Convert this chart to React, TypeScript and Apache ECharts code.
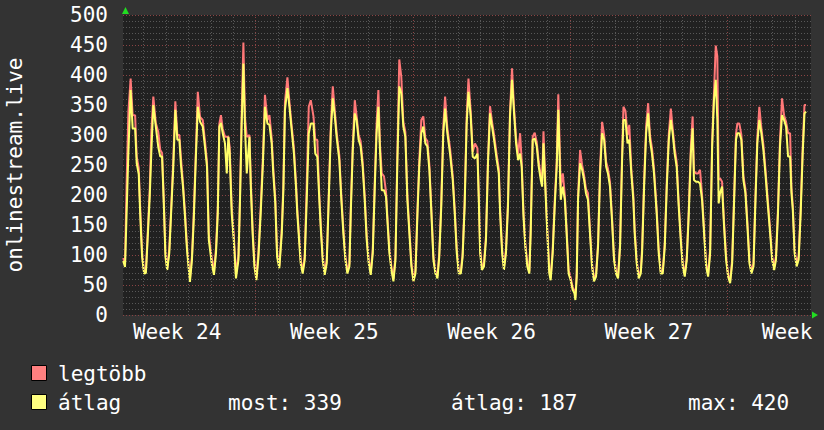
import React, { useEffect, useRef } from "react";
import * as echarts from "echarts";

// time in days (day 0 = Monday of week 24)
const dayPoints = [
  1.10, 1.18, 1.25, 1.33, 1.43, 1.52, 1.63, 1.70, 1.79, 1.86, 1.94,
  2.03, 2.11, 2.20, 2.28, 2.35, 2.44, 2.55, 2.66, 2.75, 2.83, 2.90, 2.98,
  3.06, 3.15, 3.26, 3.33, 3.42, 3.51, 3.60, 3.67, 3.76, 3.85, 3.94,
  4.07, 4.16, 4.24, 4.34, 4.42, 4.52, 4.64, 4.74, 4.83, 4.91,
  5.04, 5.14, 5.23, 5.31, 5.38, 5.45, 5.53, 5.63, 5.71, 5.78, 5.84, 5.93,
  6.02, 6.12, 6.23, 6.30, 6.37, 6.45, 6.52, 6.60, 6.72, 6.78, 6.86, 6.94,
  7.03, 7.12, 7.22, 7.32, 7.41, 7.52, 7.61, 7.71, 7.78, 7.87, 7.95,
  8.05, 8.16, 8.23, 8.30, 8.41, 8.50, 8.60, 8.70, 8.79, 8.85, 8.94,
  9.00, 9.09, 9.18, 9.27, 9.36, 9.45, 9.57, 9.65, 9.74, 9.83, 9.89, 9.98,
  10.07, 10.16, 10.25, 10.34, 10.43, 10.52, 10.60, 10.72, 10.81, 10.90, 10.99,
  11.08, 11.17, 11.23, 11.32, 11.41, 11.49, 11.58, 11.67, 11.76, 11.85, 11.94,
  12.03, 12.12, 12.21, 12.30, 12.38, 12.46, 12.53, 12.61, 12.71, 12.80, 12.86, 12.95,
  13.04, 13.13, 13.22, 13.30, 13.39, 13.48, 13.57, 13.66, 13.75, 13.84, 13.93,
  14.02, 14.11, 14.20, 14.28, 14.37, 14.46, 14.55, 14.64, 14.73, 14.82, 14.91,
  15.00, 15.09, 15.17, 15.26, 15.35, 15.43, 15.53, 15.65, 15.77, 15.86, 15.95,
  16.04, 16.13, 16.21, 16.30, 16.39, 16.47, 16.57, 16.66, 16.76, 16.87, 16.93, 16.99,
  17.07, 17.16, 17.25, 17.34, 17.43, 17.52, 17.61, 17.73, 17.82, 17.88, 17.97,
  18.05, 18.14, 18.23, 18.32, 18.41, 18.50, 18.59, 18.68, 18.77, 18.84, 18.92,
  19.00, 19.09, 19.18, 19.24, 19.33, 19.42, 19.51, 19.60, 19.69, 19.75, 19.81, 19.89, 19.98,
  20.07, 20.13, 20.22, 20.31, 20.40, 20.47, 20.58, 20.67, 20.76, 20.84, 20.93,
  21.02, 21.11, 21.19, 21.23, 21.29, 21.35, 21.44, 21.53, 21.62, 21.70, 21.79, 21.88, 21.97,
  22.06, 22.15, 22.24, 22.33, 22.42, 22.51, 22.60, 22.68, 22.77, 22.86, 22.95,
  23.04, 23.13, 23.22, 23.31, 23.37, 23.46, 23.55, 23.63, 23.72, 23.81, 23.87, 23.96,
  24.05, 24.14, 24.20, 24.29, 24.38, 24.47, 24.55, 24.64, 24.73, 24.79, 24.85, 24.94,
  25.03, 25.12, 25.21, 25.30, 25.39, 25.48, 25.56, 25.65, 25.74, 25.83, 25.92,
  26.01, 26.10, 26.19, 26.28, 26.37, 26.45, 26.51, 26.60, 26.69, 26.78, 26.87, 26.96,
  27.05, 27.14, 27.23, 27.32, 27.40, 27.48, 27.55, 27.61, 27.67, 27.76, 27.85, 27.94,
  28.03, 28.12, 28.21, 28.29, 28.38, 28.44, 28.53, 28.62, 28.71, 28.80, 28.89, 28.98,
  29.07, 29.16, 29.24, 29.33, 29.42, 29.51, 29.60, 29.69, 29.78, 29.90, 29.99,
  30.08, 30.16, 30.25, 30.34, 30.43, 30.52, 30.61, 30.70, 30.79, 30.85, 30.91, 30.99,
  31.08, 31.17, 31.26, 31.35, 31.43, 31.50,
];

// "átlag" (average)
const atlagValues = [
  90, 80, 169, 270, 375, 311, 311, 253, 235, 164, 97,
  69, 70, 136, 197, 270, 350, 314, 280, 264, 264, 192, 97,
  75, 103, 192, 247, 342, 292, 292, 250, 214, 164, 108,
  55, 92, 158, 269, 347, 322, 314, 280, 247, 125,
  86, 67, 103, 169, 314, 320, 303, 286, 236, 297, 269, 169,
  125, 61, 92, 192, 314, 419, 314, 236, 297, 214, 136, 81,
  58, 97, 169, 253, 347, 319, 317, 286, 236, 186, 97,
  78, 136, 208, 342, 378, 347, 308, 269, 214, 169, 119,
  86, 69, 92, 192, 303, 319, 319, 269, 264, 192, 147, 92,
  67, 86, 192, 303, 361, 331, 297, 258, 192, 136, 92,
  69, 81, 169, 275, 336, 325, 292, 281, 247, 192, 125,
  86, 67, 103, 214, 303, 347, 275, 208, 208, 197, 158, 103,
  75, 56, 92, 247, 381, 369, 314, 297, 192, 136, 81,
  56, 69, 169, 247, 303, 314, 286, 281, 242, 169, 92,
  69, 61, 97, 181, 303, 344, 303, 269, 225, 169, 103,
  69, 69, 97, 181, 319, 372, 331, 264, 261, 269, 192, 103,
  75, 81, 125, 253, 336, 314, 292, 258, 236, 169, 103,
  75, 103, 181, 331, 392, 336, 286, 258, 269, 247, 164,
  114, 81, 69, 136, 292, 294, 281, 247, 225, 214, 286, 214, 136,
  69, 58, 103, 181, 247, 342, 192, 214, 192, 136, 69,
  58, 42, 36, 25, 64, 192, 253, 242, 225, 203, 192, 136, 81,
  56, 64, 114, 236, 303, 292, 247, 236, 214, 158, 92,
  69, 61, 114, 258, 325, 325, 286, 292, 236, 192, 136, 86,
  61, 69, 103, 214, 303, 336, 292, 269, 236, 203, 169, 103,
  69, 69, 114, 214, 292, 325, 303, 269, 247, 181, 125,
  81, 64, 92, 169, 269, 311, 225, 222, 222, 219, 192, 136,
  81, 64, 103, 281, 358, 392, 325, 186, 203, 214, 147, 92,
  64, 53, 86, 181, 292, 303, 303, 292, 225, 203, 147, 86,
  69, 81, 181, 286, 325, 303, 275, 236, 192, 136, 92,
  75, 92, 169, 281, 333, 325, 314, 264, 264, 203, 175, 103,
  81, 92, 169, 269, 336, 339,
];

// "legtöbb" (maximum)
const legtobbValues = [
  95, 86, 219, 339, 394, 333, 333, 264, 245, 175, 105,
  72, 74, 145, 210, 305, 364, 320, 305, 275, 270, 200, 105,
  78, 110, 200, 260, 356, 300, 300, 262, 220, 172, 115,
  60, 98, 170, 280, 372, 330, 325, 290, 255, 135,
  95, 72, 112, 180, 319, 333, 310, 297, 297, 297, 280, 180,
  135, 68, 100, 200, 330, 454, 330, 297, 300, 225, 145, 90,
  63, 105, 180, 265, 367, 325, 333, 295, 245, 195, 105,
  82, 145, 218, 355, 396, 355, 315, 278, 222, 176, 126,
  92, 73, 98, 219, 347, 358, 331, 292, 292, 200, 155, 98,
  71, 92, 200, 315, 381, 340, 305, 266, 200, 144, 98,
  73, 86, 178, 285, 358, 332, 300, 290, 255, 200, 132,
  92, 71, 110, 225, 319, 375, 285, 236, 231, 205, 165, 110,
  80, 60, 98, 260, 426, 397, 322, 305, 200, 143, 86,
  60, 74, 178, 258, 325, 331, 295, 290, 250, 176, 98,
  73, 65, 103, 190, 315, 364, 312, 278, 232, 176, 110,
  74, 72, 103, 190, 330, 394, 340, 272, 286, 278, 200, 110,
  80, 86, 132, 262, 348, 322, 300, 266, 244, 176, 110,
  80, 110, 190, 340, 411, 345, 295, 266, 303, 256, 172,
  120, 86, 73, 145, 297, 304, 288, 255, 232, 222, 306, 222, 143,
  74, 62, 110, 190, 258, 368, 214, 236, 200, 143, 74,
  62, 46, 40, 29, 70, 200, 275, 250, 232, 210, 203, 143, 86,
  60, 68, 120, 246, 322, 300, 255, 244, 222, 165, 98,
  73, 65, 120, 268, 347, 340, 300, 317, 244, 200, 143, 92,
  65, 73, 110, 224, 315, 353, 300, 278, 244, 210, 176, 110,
  73, 73, 120, 224, 302, 344, 312, 278, 255, 188, 132,
  86, 68, 98, 178, 280, 331, 240, 236, 236, 242, 200, 143,
  86, 68, 110, 292, 370, 449, 431, 225, 228, 222, 154, 98,
  68, 57, 92, 190, 302, 319, 319, 300, 232, 210, 154, 92,
  73, 86, 190, 296, 347, 312, 284, 244, 200, 143, 98,
  80, 98, 178, 292, 361, 333, 322, 303, 303, 212, 182, 110,
  86, 98, 178, 280, 350, 350,
];

const yTickValues = [0, 50, 100, 150, 200, 250, 300, 350, 400, 450, 500];
const weekLabelDays = [3.5, 10.5, 17.5, 24.5, 31.5];
const weekLabels = ["Week 24", "Week 25", "Week 26", "Week 27", "Week 28"];
const viewStartDay = 1.09;
const viewEndDay = 31.72;
const yAxisTitle = "onlinestream.live";
const legendNames = ["legtöbb", "átlag"];
const statMost = 339;
const statAtlag = 187;
const statMax = 420;

const FONT = "'DejaVu Sans Mono', monospace";
const RED = "#ff7878";
const YELLOW = "#ffff6a";
const MINOR_GRID = "#585858";
const MAJOR_GRID = "#8a4444";

export default function App() {
  const ref = useRef<HTMLDivElement>(null);

  useEffect(() => {
    if (!ref.current) return;
    const chart = echarts.init(ref.current, undefined, { renderer: "svg" });

    const gridDays: number[] = [];
    for (let d = Math.ceil(viewStartDay); d <= Math.floor(viewEndDay); d++) gridDays.push(d);

    const markData = gridDays.map((d) => ({
      xAxis: d,
      lineStyle: {
        color: d % 7 === 0 ? MAJOR_GRID : MINOR_GRID,
        type: [1, 2] as any,
        width: 1,
      },
    }));

    const maxData = dayPoints.map((d, i) => [d, legtobbValues[i]]);
    const avgData = dayPoints.map((d, i) => [d, atlagValues[i]]);

    chart.setOption({
      animation: false,
      backgroundColor: "#333333",
      textStyle: { fontFamily: FONT },
      grid: {
        left: 123,
        top: 15,
        width: 688,
        height: 300,
        show: true,
        backgroundColor: "#212121",
        borderWidth: 0,
        containLabel: false,
        outerBoundsMode: "none",
      },
      xAxis: {
        type: "value",
        min: viewStartDay,
        max: viewEndDay,
        axisLine: { show: false },
        axisTick: { show: false },
        splitLine: { show: false },
        axisLabel: {
          customValues: weekLabelDays,
          formatter: (v: number) => {
            const idx = weekLabelDays.findIndex((w) => Math.abs(w - v) < 0.01);
            return idx >= 0 ? weekLabels[idx] : "";
          },
          color: "#ffffff",
          fontFamily: FONT,
          fontSize: 21,
          margin: 6,
          showMinLabel: true,
          showMaxLabel: true,
          hideOverlap: false,
        },
      },
      yAxis: {
        type: "value",
        min: yTickValues[0],
        max: yTickValues[yTickValues.length - 1],
        interval: yTickValues[1] - yTickValues[0],
        axisLine: { show: false },
        axisTick: { show: false },
        axisLabel: {
          color: "#ffffff",
          fontFamily: FONT,
          fontSize: 21,
          margin: 15,
        },
        splitLine: {
          show: true,
          lineStyle: { color: MAJOR_GRID, type: [1, 2], width: 1 },
        },
        minorTick: { show: false, splitNumber: 5 },
        minorSplitLine: {
          show: true,
          lineStyle: { color: MINOR_GRID, type: [1, 2], width: 1 },
        },
      },
      series: [
        {
          type: "line",
          name: "grid",
          data: [],
          z: 1,
          silent: true,
          markLine: {
            silent: true,
            symbol: ["none", "none"],
            label: { show: false },
            animation: false,
            data: markData,
          },
        },
        {
          type: "line",
          name: legendNames[0],
          data: maxData,
          showSymbol: false,
          symbol: "none",
          z: 3,
          lineStyle: { color: RED, width: 2 },
          itemStyle: { color: RED },
        },
        {
          type: "line",
          name: legendNames[1],
          data: avgData,
          showSymbol: false,
          symbol: "none",
          z: 4,
          lineStyle: { color: YELLOW, width: 2 },
          itemStyle: { color: YELLOW },
        },
      ],
    });

    const tl = chart.convertToPixel({ gridIndex: 0 }, [viewStartDay, yTickValues[yTickValues.length - 1]]) as number[];
    const br = chart.convertToPixel({ gridIndex: 0 }, [viewEndDay, yTickValues[0]]) as number[];
    const midY = (tl[1] + br[1]) / 2;

    const textStyle = (x: number, y: number, text: string) => ({
      type: "text",
      x,
      y,
      style: {
        text,
        fill: "#ffffff",
        font: `21px ${FONT}`,
        textAlign: "left",
        textVerticalAlign: "middle",
      },
    });

    chart.setOption({
      graphic: [
        {
          type: "polygon",
          shape: {
            points: [
              [tl[0] - 1, tl[1] - 1],
              [tl[0] + 6, tl[1] - 1],
              [tl[0] + 2.5, tl[1] - 8],
            ],
          },
          style: { fill: "#22dd22" },
        },
        {
          type: "polygon",
          shape: {
            points: [
              [br[0] + 1, br[1] - 3.5],
              [br[0] + 1, br[1] + 3.5],
              [br[0] + 7, br[1]],
            ],
          },
          style: { fill: "#22dd22" },
        },
        {
          type: "text",
          x: 15,
          y: midY,
          rotation: Math.PI / 2,
          style: {
            text: yAxisTitle,
            fill: "#ffffff",
            font: `21px ${FONT}`,
            textAlign: "center",
            textVerticalAlign: "middle",
          },
        },
        {
          type: "rect",
          shape: { x: 31.5, y: 365.5, width: 15, height: 15 },
          style: { fill: "#ff8080", stroke: "#000000", lineWidth: 1 },
        },
        {
          type: "rect",
          shape: { x: 31.5, y: 394.5, width: 15, height: 15 },
          style: { fill: "#ffff80", stroke: "#000000", lineWidth: 1 },
        },
        textStyle(58, 374, legendNames[0]),
        textStyle(58, 403, legendNames[1]),
        textStyle(228, 403, `most: ${statMost}`),
        textStyle(451, 403, `átlag: ${statAtlag}`),
        textStyle(688, 403, `max: ${statMax}`),
      ],
    });

    return () => chart.dispose();
  }, []);

  return (
    <div
      ref={ref}
      style={{ position: "absolute", left: 0, top: 0, width: 824, height: 430 }}
    />
  );
}
